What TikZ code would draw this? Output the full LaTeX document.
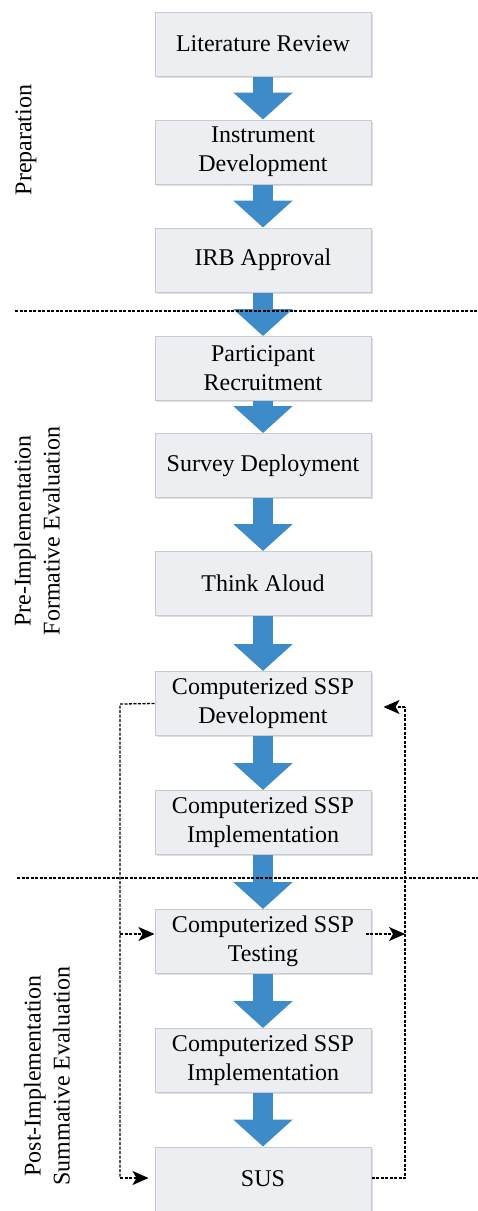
\documentclass[tikz,border=0pt]{standalone}
\usepackage{fontspec}
\setmainfont{Liberation Serif}
\usetikzlibrary{arrows.meta,calc,shadows}
\definecolor{boxfill}{HTML}{EDEEF2}
\definecolor{boxline}{HTML}{C6CAD2}
\definecolor{flowblue}{HTML}{3D8BC9}
\begin{document}
\begin{tikzpicture}[x=1pt,y=-1pt,
  stage/.style={draw=boxline,fill=boxfill,line width=1pt,minimum width=216pt,minimum height=64pt,
    inner sep=0pt,align=center,font=\fontsize{24}{29}\selectfont,
    drop shadow={shadow xshift=1.5pt,shadow yshift=-1.5pt,opacity=0.25,fill=gray}},
  flow/.style={draw=flowblue,line width=20pt,-{Triangle[width=58pt,length=27pt,fill=flowblue]}},
  divider/.style={draw=black,line width=1.3pt,dash pattern=on 3pt off 1.5pt},
  fbline/.style={draw=black,line width=1.3pt,dash pattern=on 3pt off 1.5pt},
  fbarrow/.style={fbline,-{Stealth[length=16pt,width=14pt,inset=4pt,fill=black]}},
  phase/.style={rotate=90,align=center,font=\fontsize{24}{29}\selectfont}]
\useasboundingbox (0,0) rectangle (478,1211);
\node[stage] (s1) at (263,44) {Literature Review};
\node[stage] (s2) at (263,152) {Instrument\\Development};
\node[stage] (s3) at (263,260) {IRB Approval};
\node[stage] (s4) at (263,368.5) {Participant\\Recruitment};
\node[stage] (s5) at (263,465.5) {Survey Deployment};
\node[stage] (s6) at (263,583.5) {Think Aloud};
\node[stage] (s7) at (263,703.5) {Computerized SSP\\Development};
\node[stage] (s8) at (263,822.5) {Computerized SSP\\Implementation};
\node[stage] (s9) at (263,941.5) {Computerized SSP\\Testing};
\node[stage] (s10) at (263,1060.5) {Computerized SSP\\Implementation};
\node[stage] (s11) at (263,1179) {SUS};
\foreach \a/\b in {s1/s2,s2/s3,s3/s4,s4/s5,s5/s6,s6/s7,s7/s8,s8/s9,s9/s10,s10/s11}
  \draw[flow] (\a.south) -- (\b.north);
\coordinate (d1a) at (15,311); \coordinate (d1b) at (478,311);
\coordinate (d2a) at (17,878); \coordinate (d2b) at (478,878);
\draw[divider] (d1a) -- (d1b);
\draw[divider] (d2a) -- (d2b);
% left feedback loop
\coordinate (lt) at (120,704);
\coordinate (lb) at (120,1178);
\coordinate (lm) at (120,934);
\draw[fbline] (s7.west) -- (lt) -- (lb);
\draw[fbarrow] (lb) -- ($(s11.west)+(-6,-1)$);
\draw[fbarrow] (lm) -- ($(s9.west)+(0,-7.5)$);
% right feedback loop
\coordinate (rb) at (405,1178);
\coordinate (rt) at (405,707);
\coordinate (rm) at (405,934);
\draw[fbline] ($(s11.east)+(0,-1)$) -- (rb) -- (rt);
\draw[fbarrow] (rt) -- ($(s7.east)+(12,3.5)$);
\draw[fbarrow] ($(s9.east)+(-6,-7.5)$) -- (rm);
% phase labels
\node[phase] (p1) at (26,140) {Preparation};
\node[phase] (p2) at (37,531) {Pre-Implementation\\Formative Evaluation};
\node[phase] (p3) at (47,1076) {Post-Implementation\\Summative Evaluation};
\end{tikzpicture}
\end{document}
